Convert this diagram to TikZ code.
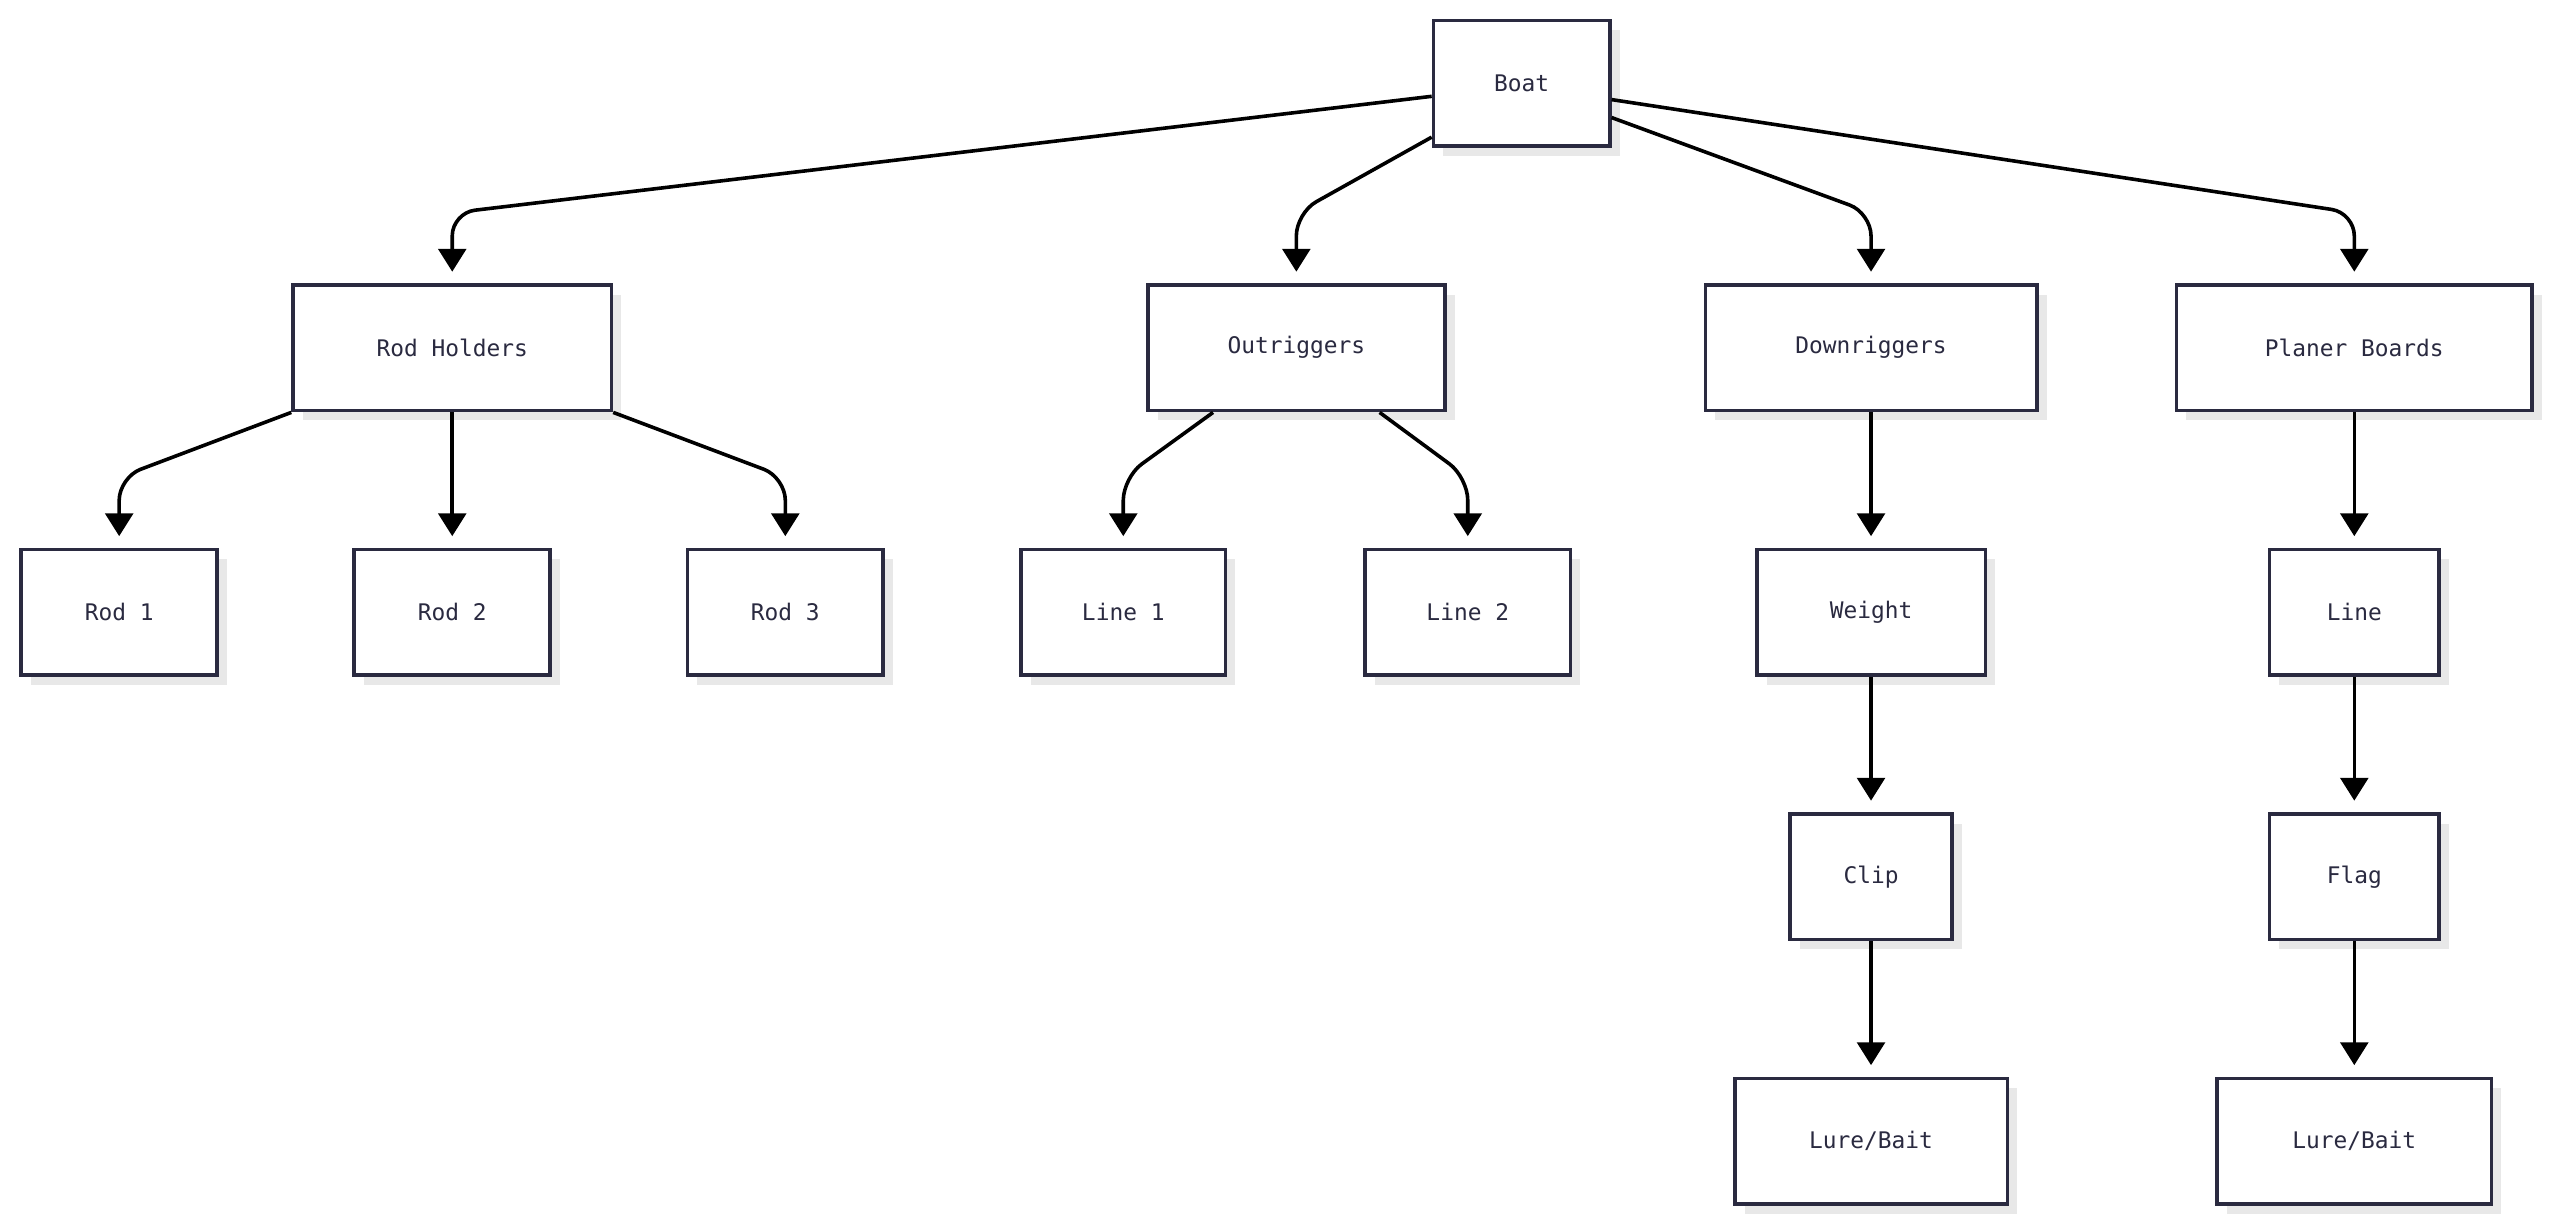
\documentclass[tikz,border=0pt]{standalone}
\usepackage{fontspec}
\setmainfont{DejaVu Sans Mono}
\usetikzlibrary{calc,shadows,arrows.meta}
\definecolor{bd}{HTML}{2A2A40}
\begin{document}
\begin{tikzpicture}[x=1pt,y=-1pt,
  box/.style={draw=bd,line width=2.2pt,fill=white,text=bd,font=\fontsize{14}{16}\selectfont,minimum height=77pt,inner sep=0pt,
    drop shadow={shadow xshift=6pt,shadow yshift=-6pt,fill=black!9,opacity=1}},
  e/.style={line width=2.2pt,draw=black,rounded corners=14pt,-{Triangle[length=14pt,width=17pt]}}]
\useasboundingbox (0,0) rectangle (1568,753);
\node[box,minimum width=108pt] (boat) at (932,51) {Boat};
\node[box,minimum width=195pt] (rodh) at (277,213) {Rod Holders};
\node[box,minimum width=182pt] (outr) at (794,213) {Outriggers};
\node[box,minimum width=203pt] (down) at (1146,213) {Downriggers};
\node[box,minimum width=218pt] (plan) at (1442,213) {Planer Boards};
\node[box,minimum width=120pt] (rod1) at (73,375) {Rod 1};
\node[box,minimum width=120pt] (rod2) at (277,375) {Rod 2};
\node[box,minimum width=120pt] (rod3) at (481,375) {Rod 3};
\node[box,minimum width=125pt] (line1) at (688,375) {Line 1};
\node[box,minimum width=126pt] (line2) at (899,375) {Line 2};
\node[box,minimum width=140pt] (weight) at (1146,375) {Weight};
\node[box,minimum width=104pt] (line) at (1442,375) {Line};
\node[box,minimum width=99pt] (clip) at (1146,537) {Clip};
\node[box,minimum width=104pt] (flag) at (1442,537) {Flag};
\node[box,minimum width=167pt] (lure1) at (1146,699) {Lure/Bait};
\node[box,minimum width=168pt] (lure2) at (1442,699) {Lure/Bait};
\draw[e] ([yshift=-8pt]boat.west) -- ($(rodh.north)+(0,-43)$) -- ([yshift=7pt]rodh.north);
\draw[e] ([yshift=-33pt]boat.west) -- ($(outr.north)+(0,-43)$) -- ([yshift=7pt]outr.north);
\draw[e] ([yshift=-21pt]boat.east) -- ($(down.north)+(0,-43)$) -- ([yshift=7pt]down.north);
\draw[e] ([yshift=-10pt]boat.east) -- ($(plan.north)+(0,-43)$) -- ([yshift=7pt]plan.north);
\draw[e] (rodh.south west) -- ($(rod1.north)+(0,-43)$) -- ([yshift=7pt]rod1.north);
\draw[e] (rodh.south) -- ([yshift=7pt]rod2.north);
\draw[e] (rodh.south east) -- ($(rod3.north)+(0,-43)$) -- ([yshift=7pt]rod3.north);
\draw[e] ([xshift=-51pt]outr.south) -- ($(line1.north)+(0,-43)$) -- ([yshift=7pt]line1.north);
\draw[e] ([xshift=51pt]outr.south) -- ($(line2.north)+(0,-43)$) -- ([yshift=7pt]line2.north);
\draw[e] (down.south) -- ([yshift=7pt]weight.north);
\draw[e] (weight.south) -- ([yshift=7pt]clip.north);
\draw[e] (clip.south) -- ([yshift=7pt]lure1.north);
\draw[e] (plan.south) -- ([yshift=7pt]line.north);
\draw[e] (line.south) -- ([yshift=7pt]flag.north);
\draw[e] (flag.south) -- ([yshift=7pt]lure2.north);
\end{tikzpicture}
\end{document}
